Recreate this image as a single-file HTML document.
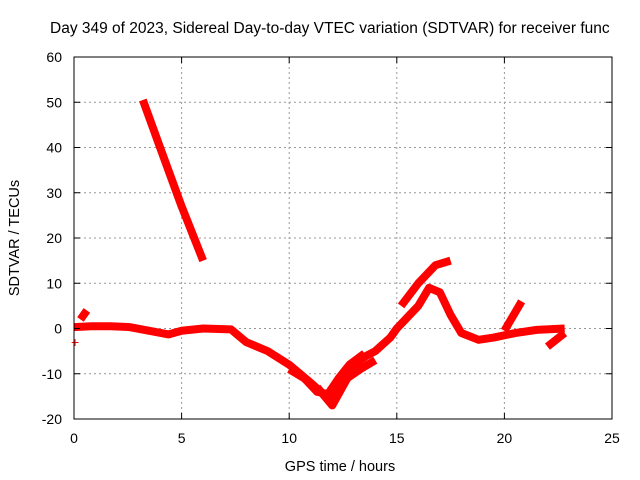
<!DOCTYPE html>
<html><head><meta charset="utf-8"><style>
html,body{margin:0;padding:0;background:#fff;overflow:hidden}
svg{display:block;font-family:"Liberation Sans",sans-serif}
</style></head><body>
<svg id="c" width="640" height="480">
<text x="50" y="33" font-size="15.5">Day 349 of 2023, Sidereal Day-to-day VTEC variation (SDTVAR) for receiver func</text>
<text x="340" y="471" font-size="14.5" text-anchor="middle">GPS time / hours</text>
<text transform="translate(19,238) rotate(-90)" font-size="14.5" text-anchor="middle">SDTVAR / TECUs</text>
<g id="grid"></g><g id="series"></g>
<rect x="74" y="57" width="538" height="362" fill="none" stroke="#000" stroke-width="1"/>
<g id="ticks"></g>
</svg>
<script>
const xTicks=[0,5,10,15,20,25];
const yTicks=[-20,-10,0,10,20,30,40,50,60];
const mainBand=[[0,0.3],[0.8,0.5],[1.7,0.5],[2.6,0.3],[3.5,-0.5],[4.4,-1.3],[5,-0.5],[6,0],[7.3,-0.2],[8,-3],[9,-5],[10,-8],[11,-12],[11.7,-15],[12,-15.5],[12.5,-12],[13,-8],[13.6,-6],[14,-5],[14.7,-2],[15,0],[15.5,2.5],[16,5],[16.5,9],[17,8],[17.5,3],[18,-1],[18.8,-2.5],[19.5,-2],[20.5,-1],[21.5,-0.3],[22.8,0]];
const secondBand=[[10,-9],[10.7,-11],[11.3,-14],[11.8,-14.5],[12.3,-11],[12.8,-8],[13.5,-5.5]];
const upperBranch=[[15.2,5],[16,10],[16.8,14],[17.5,15]];
const lowBranch=[[11.3,-13],[12,-17],[12.7,-11],[13.3,-9],[14,-7]];
const riseBranch=[[20,-0.5],[20.8,6]];
const descLine=[[3.2,50.5],[4,40],[5,27],[6,15]];
const endBranch=[[22,-4],[22.8,-1]];
const earlyBump=[[0.3,2],[0.6,4]];
const seriesList=[mainBand,secondBand,upperBranch,lowBranch,riseBranch,descLine,endBranch,earlyBump];
const X=h=>74+h*538/25, Y=v=>419-(v+20)*362/80;
const NS="http://www.w3.org/2000/svg";
const g=document.getElementById('grid'),t=document.getElementById('ticks'),s=document.getElementById('series');
function mk(tag,a,p){const e=document.createElementNS(NS,tag);for(const k in a)e.setAttribute(k,a[k]);p.appendChild(e);return e;}
xTicks.forEach(v=>{
 const l=mk('line',{x1:X(v),x2:X(v),y1:57,y2:419,stroke:'#999','stroke-dasharray':'2,3'},g);
 
 
 mk('line',{x1:X(v),x2:X(v),y1:419,y2:413,stroke:'#000'},t);
 mk('line',{x1:X(v),x2:X(v),y1:57,y2:63,stroke:'#000'},t);
 const tx=mk('text',{x:X(v),y:443,'font-size':14,'text-anchor':'middle'},t);tx.textContent=v;
 
 
});
yTicks.forEach(v=>{
 const l=mk('line',{x1:74,x2:612,y1:Y(v),y2:Y(v),stroke:'#999','stroke-dasharray':'2,3'},g);
 
 
 mk('line',{x1:74,x2:80,y1:Y(v),y2:Y(v),stroke:'#000'},t);
 mk('line',{x1:612,x2:606,y1:Y(v),y2:Y(v),stroke:'#000'},t);
 const tx=mk('text',{x:62,y:Y(v)+5,'font-size':14,'text-anchor':'end'},t);tx.textContent=v;
 
 
});
seriesList.forEach(d=>{
 const p=mk('polyline',{points:d.map(q=>X(q[0])+','+Y(q[1])).join(' '),fill:'none',stroke:'#f00','stroke-width':8,'stroke-linejoin':'round'},s);
 
 
});
const m=mk('text',{x:X(0.05),y:Y(-3)+5,'font-size':14,fill:'#f00','text-anchor':'middle'},s);m.textContent='+';


</script>
</body></html>
